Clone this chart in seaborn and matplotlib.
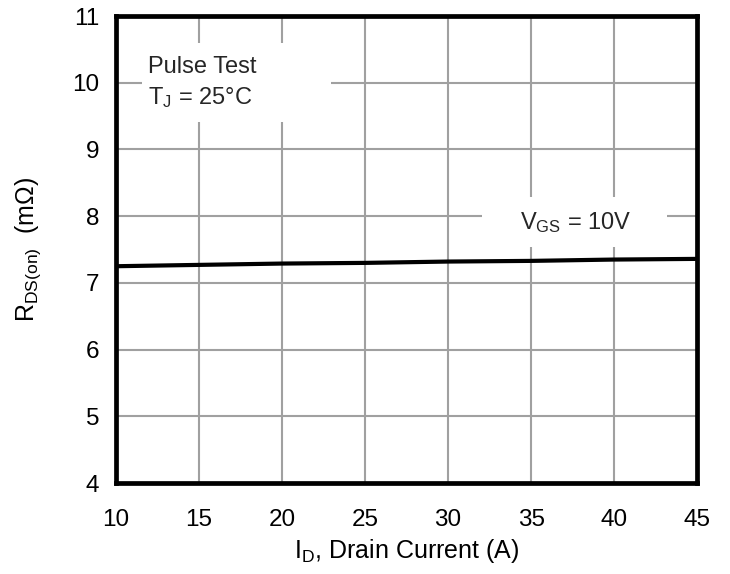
import matplotlib
matplotlib.use("Agg")
import matplotlib.pyplot as plt
import seaborn as sns
import pandas as pd
from matplotlib.patches import Rectangle

# data
drain_current = [10, 15, 20, 25, 30, 35, 40, 45]
rds_on = [7.25, 7.27, 7.29, 7.30, 7.32, 7.33, 7.35, 7.36]
x_ticks = [10, 15, 20, 25, 30, 35, 40, 45]
y_ticks = [4, 5, 6, 7, 8, 9, 10, 11]

sns.set_theme(style="white")
plt.rcParams['font.family'] = ['Liberation Sans', 'DejaVu Sans']
plt.rcParams['mathtext.fontset'] = 'custom'
plt.rcParams['mathtext.rm'] = 'Liberation Sans'
plt.rcParams['mathtext.it'] = 'Liberation Sans'

df = pd.DataFrame({"ID": drain_current, "RDS": rds_on})

fig = plt.figure(figsize=(7.3, 5.74), dpi=100)
ax = fig.add_axes([0.159, 0.1585, 0.796, 0.8135])

sns.lineplot(data=df, x="ID", y="RDS", ax=ax, color="black", linewidth=3.0, zorder=4)

ax.set_xlim(10, 45)
ax.set_ylim(4, 11)
ax.set_xticks(x_ticks)
ax.set_yticks(y_ticks)
ax.tick_params(axis='both', length=0, labelsize=17.5, colors='black')
ax.tick_params(axis='x', pad=19)
ax.tick_params(axis='y', pad=12)
ax.grid(True, color='#a0a0a0', linewidth=1.5)
for s in ax.spines.values():
    s.set_linewidth(3.4)
    s.set_color('black')
    s.set_visible(True)

ax.set_xlabel(r'I$\mathregular{_D}$, Drain Current (A)', fontsize=18, labelpad=4, color='black')
ax.set_ylabel(r'R$\mathregular{_{DS(on)}}$  (mΩ)', fontsize=18, labelpad=21, color='black')

ax.add_patch(Rectangle((11.57, 9.41), 11.38, 1.19, facecolor='white', edgecolor='none', zorder=3))
ax.add_patch(Rectangle((32.05, 7.54), 11.14, 0.75, facecolor='white', edgecolor='none', zorder=3))

ax.text(11.93, 10.146, 'Pulse Test', fontsize=17, va='baseline', ha='left', zorder=5)
ax.text(11.93, 9.68, r'T$\mathregular{_J}$ = 25°C', fontsize=17, va='baseline', ha='left', zorder=5)
ax.text(34.34, 7.809, r'V$\mathregular{_{GS}}$ = 10V', fontsize=17, va='baseline', ha='left', zorder=5)

fig.savefig("out.png", dpi=100)
